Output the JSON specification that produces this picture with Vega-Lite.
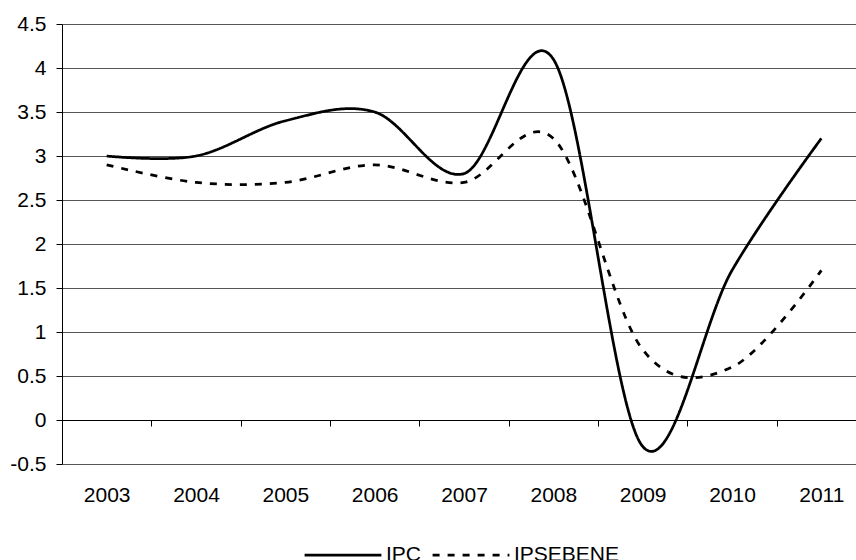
{
  "$schema": "https://vega.github.io/schema/vega-lite/v6.json",
  "width": 794,
  "height": 440,
  "autosize": {"type": "none"},
  "padding": {"left": 62, "top": 24, "right": 0, "bottom": 96},
  "background": "white",
  "config": {"view": {"stroke": null}, "font": "Liberation Sans"},
  "data": {
    "values": [
      {"year": "2003", "series": "IPC", "value": 3.0},
      {"year": "2004", "series": "IPC", "value": 3.0},
      {"year": "2005", "series": "IPC", "value": 3.4},
      {"year": "2006", "series": "IPC", "value": 3.5},
      {"year": "2007", "series": "IPC", "value": 2.8},
      {"year": "2008", "series": "IPC", "value": 4.1},
      {"year": "2009", "series": "IPC", "value": -0.3},
      {"year": "2010", "series": "IPC", "value": 1.7},
      {"year": "2011", "series": "IPC", "value": 3.2},
      {"year": "2003", "series": "IPSEBENE", "value": 2.9},
      {"year": "2004", "series": "IPSEBENE", "value": 2.7},
      {"year": "2005", "series": "IPSEBENE", "value": 2.7},
      {"year": "2006", "series": "IPSEBENE", "value": 2.9},
      {"year": "2007", "series": "IPSEBENE", "value": 2.7},
      {"year": "2008", "series": "IPSEBENE", "value": 3.2},
      {"year": "2009", "series": "IPSEBENE", "value": 0.8},
      {"year": "2010", "series": "IPSEBENE", "value": 0.6},
      {"year": "2011", "series": "IPSEBENE", "value": 1.7}
    ]
  },
  "mark": {"type": "line", "interpolate": "cardinal", "color": "black", "strokeWidth": 2.75},
  "encoding": {
    "x": {
      "field": "year",
      "type": "ordinal",
      "bandPosition": 0.5,
      "scale": {"type": "band", "paddingInner": 0, "paddingOuter": 0, "range": [0, 804]},
      "axis": {
        "title": null,
        "orient": "bottom",
        "offset": -44,
        "tickBand": "extent",
        "domainColor": "black",
        "tickColor": "black",
        "tickSize": 6,
        "labelPadding": 58,
        "labelFontSize": 21,
        "labelColor": "black",
        "labelAngle": 0,
        "grid": false
      }
    },
    "y": {
      "field": "value",
      "type": "quantitative",
      "scale": {"domain": [-0.5, 4.5], "nice": false, "zero": false},
      "axis": {
        "title": null,
        "values": [-0.5, 0, 0.5, 1, 1.5, 2, 2.5, 3, 3.5, 4, 4.5],
        "labelExpr": "datum.value + ''",
        "grid": true,
        "gridColor": "#555555",
        "domainColor": "black",
        "tickColor": "black",
        "tickSize": 6,
        "labelPadding": 10,
        "labelFontSize": 21,
        "labelColor": "black"
      }
    },
    "strokeDash": {
      "field": "series",
      "type": "nominal",
      "scale": {"domain": ["IPC", "IPSEBENE"], "range": [[1, 0], [7, 8]]},
      "legend": {
        "title": null,
        "orient": "none",
        "legendX": 241,
        "legendY": 491,
        "padding": 0,
        "direction": "horizontal",
        "symbolType": "stroke",
        "symbolSize": 5900,
        "symbolStrokeWidth": 2.75,
        "symbolStrokeColor": "black",
        "labelFontSize": 21,
        "labelColor": "black",
        "labelOffset": 3,
        "columnPadding": 5
      }
    }
  }
}
